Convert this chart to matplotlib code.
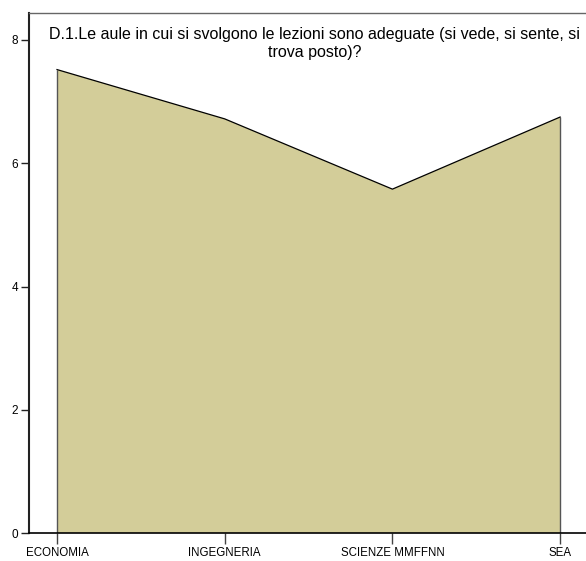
import matplotlib

matplotlib.use("Agg")
import matplotlib.pyplot as plt
import numpy as np

plt.rcParams["font.family"] = ["Liberation Sans", "DejaVu Sans"]

# ── Data ───────────────────────────────────────────────────────────────

categories = ["ECONOMIA", "INGEGNERIA", "SCIENZE MMFFNN", "SEA"]
values = [7.52, 6.72, 5.58, 6.75]
y_ticks = [0, 2, 4, 6, 8]
title = ("D.1.Le aule in cui si svolgono le lezioni sono adeguate (si vede, si sente, si\n"
         "trova posto)?")

FILL = "#D3CD99"

fig = plt.figure(figsize=(5.86, 5.61), dpi=100)
ax = fig.add_axes([0.0495, 0.0499, 0.975, 0.9278])

x = np.arange(len(categories))
ax.fill_between(x, 0, values, color=FILL, edgecolor="none", zorder=1)
ax.plot(x, values, color="black", lw=0.9, zorder=3)
ax.vlines([x[0], x[-1]], 0, [values[0], values[-1]], color="#555555", lw=1.0, zorder=2)

ax.set_xlim(-0.167, 3.24)
ax.set_ylim(0, 8.446)
ax.set_xticks(x)
ax.set_xticklabels(categories, fontsize=8.3)
ax.set_yticks(y_ticks)
ax.set_yticklabels([str(t) for t in y_ticks], fontsize=8.5)
ax.tick_params(axis="x", length=8, width=1, color="#444444", pad=2)
ax.tick_params(axis="y", length=6, width=1, color="#222222", pad=2)

ax.spines["left"].set_color("#222222")
ax.spines["left"].set_linewidth(1.5)
ax.spines["bottom"].set_color("black")
ax.spines["bottom"].set_linewidth(1.2)
ax.spines["top"].set_color("#666666")
ax.spines["top"].set_linewidth(1.0)
ax.spines["right"].set_visible(False)

ax.text(0.5, 0.973, title, transform=ax.transAxes, ha="center", va="top",
        fontsize=11.5, linespacing=1.3)

fig.savefig("out.png", dpi=100)
